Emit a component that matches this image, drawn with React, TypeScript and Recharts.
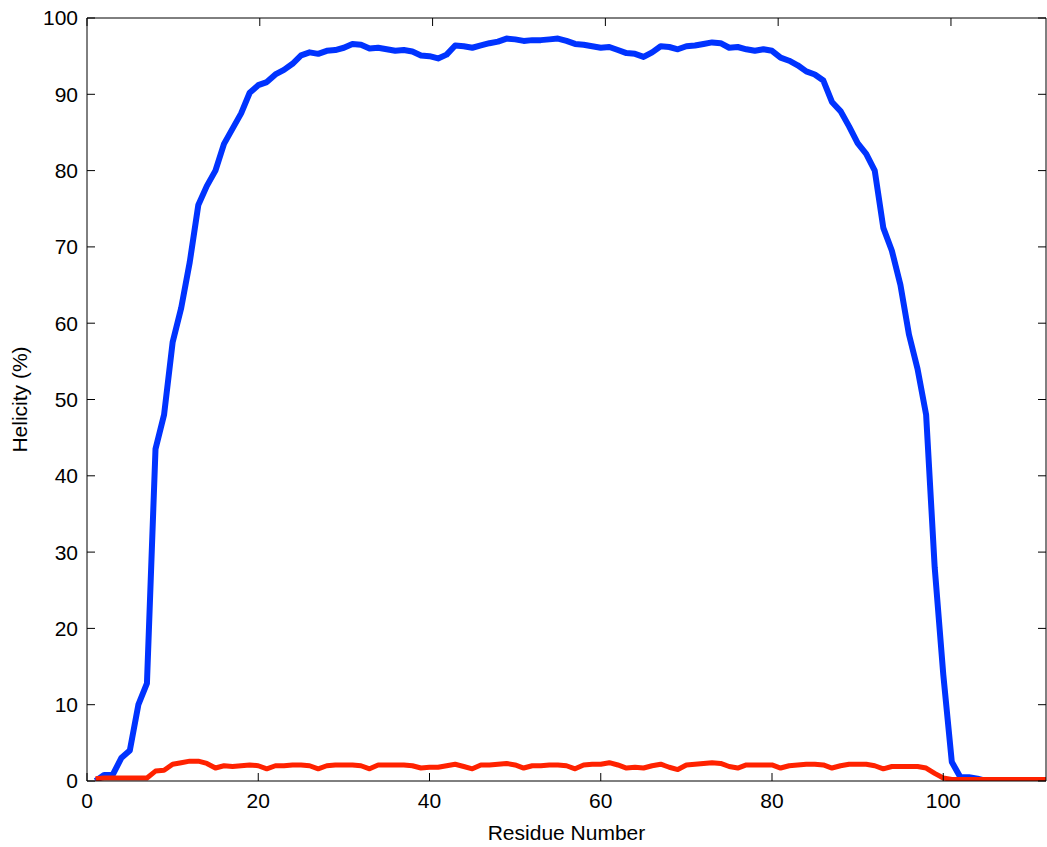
import { LineChart, Line, XAxis, YAxis } from 'recharts';

// residue numbers along the chain
const residues = [
  1, 2, 3, 4, 5, 6, 7, 8, 9, 10, 11, 12, 13, 14, 15, 16, 17, 18, 19, 20,
  21, 22, 23, 24, 25, 26, 27, 28, 29, 30, 31, 32, 33, 34, 35, 36, 37, 38, 39, 40,
  41, 42, 43, 44, 45, 46, 47, 48, 49, 50, 51, 52, 53, 54, 55, 56, 57, 58, 59, 60,
  61, 62, 63, 64, 65, 66, 67, 68, 69, 70, 71, 72, 73, 74, 75, 76, 77, 78, 79, 80,
  81, 82, 83, 84, 85, 86, 87, 88, 89, 90, 91, 92, 93, 94, 95, 96, 97, 98, 99, 100,
  101, 102, 103, 104, 105, 106, 107, 108, 109, 110, 111, 112,
];

// alpha helicity (%) — blue trace
const helicityBlue = [
  0, 0.8, 0.8, 3, 4, 10, 12.8, 43.5, 48, 57.5, 62, 68, 75.5, 78, 80, 83.5, 85.5, 87.5, 90.2, 91.2,
  91.6, 92.6, 93.2, 94.0, 95.1, 95.5, 95.3, 95.7, 95.8, 96.1, 96.6, 96.5, 96.0, 96.1, 95.9, 95.7, 95.8, 95.6, 95.1, 95.0,
  94.7, 95.2, 96.4, 96.3, 96.1, 96.4, 96.7, 96.9, 97.3, 97.2, 97.0, 97.1, 97.1, 97.2, 97.3, 97.0, 96.6, 96.5, 96.3, 96.1,
  96.2, 95.8, 95.4, 95.3, 94.9, 95.5, 96.3, 96.2, 95.9, 96.3, 96.4, 96.6, 96.8, 96.7, 96.1, 96.2, 95.9, 95.7, 95.9, 95.7,
  94.8, 94.4, 93.8, 93.0, 92.6, 91.8, 89.0, 87.8, 85.8, 83.6, 82.2, 80.0, 72.5, 69.5, 65.0, 58.5, 54.0, 48.0, 28.0, 14.0,
  2.5, 0.5, 0.5, 0.3, 0, 0, 0, 0, 0, 0, 0, 0,
];

// second helicity trace (%) — red
const helicityRed = [
  0.3, 0.4, 0.4, 0.4, 0.4, 0.4, 0.4, 1.3, 1.4, 2.2, 2.4, 2.6, 2.6, 2.3, 1.7, 2.0, 1.9, 2.0, 2.1, 2.0,
  1.6, 2.0, 2.0, 2.1, 2.1, 2.0, 1.6, 2.0, 2.1, 2.1, 2.1, 2.0, 1.6, 2.1, 2.1, 2.1, 2.1, 2.0, 1.7, 1.8,
  1.8, 2.0, 2.2, 1.9, 1.6, 2.1, 2.1, 2.2, 2.3, 2.1, 1.7, 2.0, 2.0, 2.1, 2.1, 2.0, 1.6, 2.1, 2.2, 2.2,
  2.4, 2.1, 1.7, 1.8, 1.7, 2.0, 2.2, 1.8, 1.5, 2.1, 2.2, 2.3, 2.4, 2.3, 1.9, 1.7, 2.1, 2.1, 2.1, 2.1,
  1.7, 2.0, 2.1, 2.2, 2.2, 2.1, 1.7, 2.0, 2.2, 2.2, 2.2, 2.0, 1.6, 1.9, 1.9, 1.9, 1.9, 1.7, 1.0, 0.4,
  0.2, 0.2, 0.2, 0.2, 0.2, 0.2, 0.2, 0.2, 0.2, 0.2, 0.2, 0.2,
];

const xTicks = [0, 20, 40, 60, 80, 100];
const yTicks = [0, 10, 20, 30, 40, 50, 60, 70, 80, 90, 100];

const FONT = '"Liberation Sans", Arial, Helvetica, sans-serif';
const FONT_SIZE = 21;
const AXIS = '#000';
const TICK = { fontSize: FONT_SIZE, fill: '#000', fontFamily: FONT };

const data = residues.map((r, i) => ({
  residue: r,
  blue: helicityBlue[i],
  red: helicityRed[i],
}));

const blank = () => '';

export default function App() {
  return (
    <div style={{ position: 'absolute', left: 0, top: 0, background: '#fff' }}>
      <LineChart
        width={1047}
        height={847}
        data={data}
        margin={{ top: 0, right: 0, left: 0, bottom: 0 }}
      >
        <XAxis
          xAxisId="b"
          type="number"
          dataKey="residue"
          domain={[0, 112]}
          allowDataOverflow
          ticks={xTicks}
          height={66}
          tickSize={-8}
          tickMargin={20}
          tick={TICK}
          axisLine={{ stroke: AXIS }}
          tickLine={{ stroke: AXIS }}
          label={{
            value: 'Residue Number',
            position: 'insideBottom',
            offset: 7,
            style: { fontSize: FONT_SIZE, fill: '#000', fontFamily: FONT },
          }}
        />
        <XAxis
          xAxisId="t"
          orientation="top"
          type="number"
          domain={[0, 112]}
          allowDataOverflow
          ticks={xTicks}
          height={18}
          tickSize={-8}
          tickFormatter={blank}
          axisLine={{ stroke: AXIS }}
          tickLine={{ stroke: AXIS }}
        />
        <YAxis
          yAxisId="l"
          type="number"
          domain={[0, 100]}
          allowDataOverflow
          ticks={yTicks}
          width={87}
          tickSize={-8}
          tickMargin={17}
          tick={TICK}
          axisLine={{ stroke: AXIS }}
          tickLine={{ stroke: AXIS }}
          label={{
            content: (props: any) => {
              const vb = props.viewBox || { x: 0, y: 0, width: 87, height: 0 };
              const cx = vb.x + 27;
              const cy = vb.y + vb.height / 2;
              return (
                <text
                  x={cx}
                  y={cy}
                  transform={`rotate(-90, ${cx}, ${cy})`}
                  textAnchor="middle"
                  fontSize={FONT_SIZE}
                  fontFamily={FONT}
                  fill="#000"
                >
                  Helicity (%)
                </text>
              );
            },
          }}
        />
        <YAxis
          yAxisId="r"
          orientation="right"
          type="number"
          domain={[0, 100]}
          allowDataOverflow
          ticks={yTicks}
          width={1}
          tickSize={-8}
          tickFormatter={blank}
          axisLine={{ stroke: AXIS }}
          tickLine={{ stroke: AXIS }}
        />
        <Line
          xAxisId="b"
          yAxisId="l"
          type="linear"
          dataKey="blue"
          stroke="#0033ff"
          strokeWidth={6}
          dot={false}
          strokeLinejoin="round"
          isAnimationActive={false}
        />
        <Line
          xAxisId="b"
          yAxisId="l"
          type="linear"
          dataKey="red"
          stroke="#ff2200"
          strokeWidth={5}
          dot={false}
          strokeLinejoin="round"
          isAnimationActive={false}
        />
      </LineChart>
    </div>
  );
}
